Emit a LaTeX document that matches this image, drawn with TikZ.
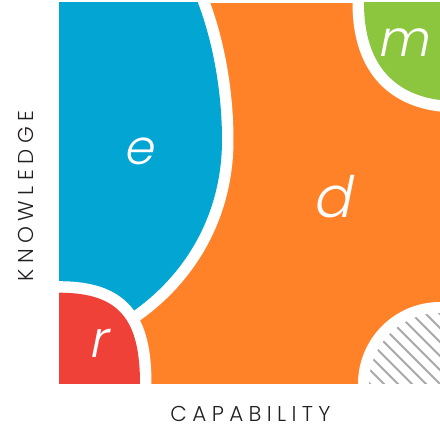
\documentclass[tikz,border=0pt]{standalone}
\usepackage{fontspec}
\IfFontExistsTF{Poppins Light}{%
  \newfontfamily\letterfont[FakeSlant=0.2]{Poppins Light}%
  \newfontfamily\labfont[LetterSpace=25]{Poppins Light}%
}{%
  \newfontfamily\letterfont[FakeSlant=0.2]{Poppins}%
  \newfontfamily\labfont[LetterSpace=25]{Poppins}%
}
\definecolor{dorange}{HTML}{FF8229}
\definecolor{eblue}{HTML}{03A6D2}
\definecolor{rred}{HTML}{EF4138}
\definecolor{mgreen}{HTML}{8CC63F}
\definecolor{hgray}{HTML}{A7A9AC}
\definecolor{ink}{HTML}{231F20}
\tikzset{
  gap/.style={white, line width=23pt},
  letter/.style={text=white, inner sep=0pt, anchor=base},
  axislabel/.style={text=ink, inner sep=0pt, anchor=base, text height=15pt, text depth=0pt,
    font=\labfont\fontsize{21.5}{24}\selectfont},
  hatchline/.style={hgray, line width=2pt}
}
\begin{document}
\begin{tikzpicture}[x=1pt,y=-1pt]
\useasboundingbox (0,0) rectangle (440,427);
\begin{scope}
\clip (59,3) rectangle (440,384);
\fill[dorange] (59,3) rectangle (440,384);
% blue region e
\draw[gap] (196,-10) -- (198,3) .. controls (214,45) and (222,95) .. (222,140)
  .. controls (222,215) and (185,275) .. (132,312) -- (100,335);
\fill[eblue] (59,-10) -- (196,-10) -- (198,3) .. controls (214,45) and (222,95) .. (222,140)
  .. controls (222,215) and (185,275) .. (132,312) -- (100,335) -- (59,335) -- cycle;
% red region r
\draw[gap] (40,292.7) -- (59,292.7) .. controls (120,292.7) and (140,320) .. (140,384) -- (140,400);
\fill[rred] (40,292.7) -- (59,292.7) .. controls (120,292.7) and (140,320) .. (140,384) -- (140,400) -- (40,400) -- cycle;
% green region m
\draw[gap] (364,-10) -- (364,3) .. controls (364,70) and (400,95) .. (440,100) -- (455,101.9);
\fill[mgreen] (364,-10) -- (364,3) .. controls (364,70) and (400,95) .. (440,100) -- (455,101.9) -- (455,-10) -- cycle;
% hatched region
\fill[white] (440,384) circle (82);
\begin{scope}
\clip (440,384) circle (71);
\foreach \c in {-28,-14,...,140} \draw[hatchline] (\c+300,300) -- (\c+400,400);
\end{scope}
\end{scope}
\node[letter, font=\letterfont\fontsize{48}{50}\selectfont] (e) at (138.5,165) {e};
\node[letter, font=\letterfont\fontsize{57}{60}\selectfont] (d) at (332,218) {d};
\node[letter, font=\letterfont\fontsize{50}{54}\selectfont] (m) at (403.5,57) {m};
\node[letter, font=\letterfont\fontsize{51}{54}\selectfont] (r) at (97.5,358) {r};
\node[axislabel, rotate=90] (know) at (33,196) {KNOWLEDGE};
\node[axislabel] (cap) at (250.5,422) {CAPABILITY};
\end{tikzpicture}
\end{document}
